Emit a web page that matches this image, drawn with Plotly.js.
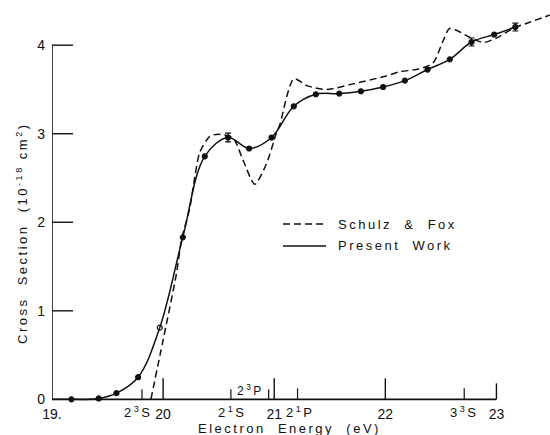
<!DOCTYPE html>
<html>
<head>
<meta charset="utf-8">
<script src="https://cdn.plot.ly/plotly-3.0.1.min.js"></script>
<style>
html,body{margin:0;padding:0;background:#fff;}
#chart{width:550px;height:435px;}
.annotation-text{letter-spacing:2.5px;}
</style>
</head>
<body>
<div id="chart"></div>
<script>
// Present Work (measured points, solid curve)
const presentE = [19.175, 19.42, 19.58, 19.775, 19.97, 20.177, 20.375, 20.585, 20.774, 20.976, 21.176, 21.375, 21.585, 21.78, 21.98, 22.176, 22.38, 22.58, 22.776, 22.98, 23.17];
const presentS = [0.0, 0.01, 0.07, 0.25, 0.81, 1.83, 2.745, 2.957, 2.833, 2.957, 3.31, 3.446, 3.453, 3.48, 3.528, 3.60, 3.725, 3.84, 4.036, 4.12, 4.205];
const openPointIndex = 4;
// points carrying error bars
const errE = [20.585, 22.776, 23.17];
const errS = [2.957, 4.036, 4.205];
const errV = [0.05, 0.045, 0.045];
// Schulz & Fox (dashed curve)
const schulzE = [19.89, 20.0, 20.12, 20.165, 20.24, 20.285, 20.33, 20.42, 20.495, 20.63, 20.72, 20.825, 20.93, 21.02, 21.05, 21.176, 21.3, 21.47, 21.7, 22.0, 22.13, 22.3, 22.43, 22.52, 22.58, 22.76, 22.88, 23.0, 23.15, 23.3, 23.48];
const schulzS = [0.0, 0.67, 1.42, 1.80, 2.16, 2.51, 2.79, 2.97, 2.994, 2.95, 2.70, 2.43, 2.66, 3.01, 3.10, 3.62, 3.54, 3.50, 3.56, 3.65, 3.70, 3.73, 3.80, 4.05, 4.19, 4.09, 4.03, 4.08, 4.19, 4.26, 4.34];
// axis ticks and labels
const yTicks = [0, 1, 2, 3, 4];
const majorE = [20, 21, 22, 23];
const xTickVals = [19, 20, 21, 22, 23];
const xTickText = ['19.', '20', '21', '22', '23'];
// excitation levels: 2³S, 2¹S, 2³P, 2¹P, 3³S
const levelE = [19.81, 20.61, 20.95, 21.21, 22.71];
const levelText = ['2<sup>3</sup>S', '2<sup>1</sup>S', '2<sup>3</sup>P', '2<sup>1</sup>P', '3<sup>3</sup>S'];
const legendNames = ['Schulz  &  Fox', 'Present  Work'];

const W = 550, H = 435;
const margin = {l: 52, r: 0, t: 8, b: 33};
const xRange = [19, 23.482];
const yRange = [-0.03, 4.42];
const plotH = H - margin.t - margin.b;
const plotW = W - margin.l - margin.r;
const pxY = plotH / (yRange[1] - yRange[0]);
const pxX = plotW / (xRange[1] - xRange[0]);
const ink = '#111';
const font = 'Liberation Sans, Arial, sans-serif';

const majorLenPx = [21, 21, 21, 16];
const levelLenPx = [10, 10, 10, 11, 11];
const yTickLenPx = 21;
// label placement for level names (px offsets)
const levelShiftX = [-4, 1, -4, 2, 0];
const levelAbove = [false, false, true, false, false];

const shapes = [];
shapes.push({type: 'line', xref: 'x', yref: 'y', x0: 19, x1: 23, y0: 0, y1: 0, line: {color: ink, width: 1.6}});
shapes.push({type: 'line', xref: 'x', yref: 'y', x0: 19, x1: 19, y0: 0, y1: 4, line: {color: ink, width: 1.6}});
yTicks.forEach(v => shapes.push({type: 'line', xref: 'x', yref: 'y', x0: 19, x1: 19 + yTickLenPx / pxX, y0: v, y1: v, line: {color: ink, width: 1.4}}));
majorE.forEach((e, i) => shapes.push({type: 'line', xref: 'x', yref: 'y', x0: e, x1: e, y0: 0, y1: majorLenPx[i] / pxY, line: {color: ink, width: 1.4}}));
levelE.forEach((e, i) => shapes.push({type: 'line', xref: 'x', yref: 'y', x0: e, x1: e, y0: 0, y1: levelLenPx[i] / pxY, line: {color: ink, width: 1.2}}));
function px2paperX(p) { return (p - margin.l) / plotW; }
function px2paperY(p) { return (H - margin.b - p) / plotH; }
shapes.push({type: 'line', xref: 'paper', yref: 'paper', x0: px2paperX(283), x1: px2paperX(326), y0: px2paperY(224), y1: px2paperY(224), line: {color: ink, width: 1.4, dash: '7px,4px'}});
shapes.push({type: 'line', xref: 'paper', yref: 'paper', x0: px2paperX(283), x1: px2paperX(326), y0: px2paperY(246), y1: px2paperY(246), line: {color: ink, width: 1.4}});

const annFont = {family: font, size: 13, color: ink};
const annotations = [
  {text: legendNames[0], xref: 'paper', yref: 'paper', x: px2paperX(336), y: px2paperY(224), xanchor: 'left', yanchor: 'middle', showarrow: false, font: annFont},
  {text: legendNames[1], xref: 'paper', yref: 'paper', x: px2paperX(336), y: px2paperY(246), xanchor: 'left', yanchor: 'middle', showarrow: false, font: annFont},
  {text: 'Electron  Energy  (eV)', xref: 'paper', yref: 'paper', x: px2paperX(289), y: px2paperY(428), xanchor: 'center', yanchor: 'middle', showarrow: false, font: annFont},
  {text: 'Cross  Section  (10<sup>-18</sup> cm<sup>2</sup>)', xref: 'paper', yref: 'paper', x: px2paperX(22), y: px2paperY(233), xanchor: 'center', yanchor: 'middle', textangle: -90, showarrow: false, font: annFont}
];
levelE.forEach((e, i) => {
  if (levelAbove[i]) {
    annotations.push({text: levelText[i], xref: 'x', yref: 'y', x: e, y: 0, xanchor: 'right', yanchor: 'bottom', xshift: levelShiftX[i], yshift: 0, showarrow: false, font: {family: font, size: 12, color: ink}, borderpad: 0});
  } else {
    annotations.push({text: levelText[i], xref: 'x', yref: 'paper', x: e, y: px2paperY(412), xanchor: 'center', yanchor: 'middle', xshift: levelShiftX[i], showarrow: false, font: {family: font, size: 13, color: ink}, borderpad: 0});
  }
});

const traces = [
  {x: schulzE, y: schulzS, mode: 'lines', type: 'scatter', line: {color: ink, width: 1.5, dash: '7px,4px', shape: 'spline', smoothing: 0.7}, hoverinfo: 'skip', cliponaxis: false},
  {x: presentE, y: presentS, mode: 'lines+markers', type: 'scatter', line: {color: ink, width: 1.5, shape: 'spline', smoothing: 1}, marker: {color: ink, size: 5, symbol: presentE.map((e, i) => i === openPointIndex ? 'circle-open' : 'circle'), line: {color: ink, width: 1.2}}, cliponaxis: false},
  {x: errE, y: errS, mode: 'markers', type: 'scatter', marker: {color: ink, size: 5}, error_y: {type: 'data', array: errV, visible: true, color: ink, thickness: 1.2, width: 3}, cliponaxis: false}
];

const layout = {
  width: W, height: H, margin: margin,
  paper_bgcolor: '#fff', plot_bgcolor: '#fff',
  showlegend: false,
  font: {family: font, color: ink, size: 13},
  xaxis: {range: xRange, showgrid: false, zeroline: false, showline: false, ticks: '', tickangle: 0, tickvals: xTickVals, ticktext: xTickText, tickfont: {family: font, size: 14, color: ink}, ticklabelstandoff: 2, fixedrange: true},
  yaxis: {range: yRange, showgrid: false, zeroline: false, showline: false, ticks: '', tickvals: yTicks, tickfont: {family: font, size: 14, color: ink}, ticklabelstandoff: 6, fixedrange: true},
  shapes: shapes,
  annotations: annotations
};

Plotly.newPlot('chart', traces, layout, {displayModeBar: false, staticPlot: true});
</script>
</body>
</html>
